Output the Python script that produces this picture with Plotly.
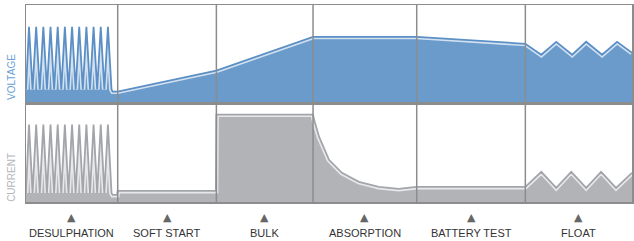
import plotly.graph_objects as go
from plotly.subplots import make_subplots

# ---- data ----
phases = ["DESULPHATION", "SOFT START", "BULK", "ABSORPTION", "BATTERY TEST", "FLOAT"]
phase_bounds = [0, 92, 191, 288, 392, 501, 608]

volt_t = [0, 3, 6.6, 10.2, 13.8, 17.4, 21, 24.6, 28.2, 31.8, 35.4, 39, 42.6, 46.2, 49.8,
          53.4, 57, 60.6, 64.2, 67.8, 71.4, 75, 78.6, 82.2, 85.8,
          87, 92, 191, 288, 392, 501, 517, 532, 548, 562, 578, 593, 608]
volt_v = [14, 77, 14, 77, 14, 77, 14, 77, 14, 77, 14, 77, 14, 77, 14,
          77, 14, 77, 14, 77, 14, 77, 14, 77, 14,
          12, 12, 33, 67, 67, 60, 49, 62, 49, 62, 49, 62, 51]

curr_t = [0, 3, 6.6, 10.2, 13.8, 17.4, 21, 24.6, 28.2, 31.8, 35.4, 39, 42.6, 46.2, 49.8,
          53.4, 57, 60.6, 64.2, 67.8, 71.4, 75, 78.6, 82.2, 85.8,
          87, 91.5, 92, 190.5, 191, 288, 289, 294, 304, 317, 334, 354, 374, 392,
          501, 517, 532, 547, 562, 577, 592, 608]
curr_v = [9, 77, 9, 77, 9, 77, 9, 77, 9, 77, 9, 77, 9, 77, 9,
          77, 9, 77, 9, 77, 9, 77, 9, 77, 9,
          7, 7, 11, 11, 87, 87, 82, 65, 42, 29, 20, 15, 13, 15,
          15, 30, 14, 30, 14, 30, 14, 29]

# ---- styles ----
BLUE_FILL = "#6a9bcb"
BLUE_LINE = "#5b8fc5"
GRAY_FILL = "#b1b3b7"
GRAY_LINE = "#a2a5aa"
BORDER = "#8c8c8c"

fig = make_subplots(rows=2, cols=1, shared_xaxes=True, vertical_spacing=0)

def add_series(t, v, fill, line, row):
    fig.add_trace(go.Scatter(x=t, y=v, mode="lines", fill="tozeroy", fillcolor=fill,
                             line=dict(width=0, color=fill), hoverinfo="skip",
                             showlegend=False), row=row, col=1)
    fig.add_trace(go.Scatter(x=t, y=v, mode="lines",
                             line=dict(width=5, color="rgba(255,255,255,0.7)"),
                             hoverinfo="skip", showlegend=False), row=row, col=1)
    fig.add_trace(go.Scatter(x=t, y=v, mode="lines",
                             line=dict(width=1.8, color=line),
                             hoverinfo="skip", showlegend=False), row=row, col=1)

add_series(volt_t, volt_v, BLUE_FILL, BLUE_LINE, 1)
add_series(curr_t, curr_v, GRAY_FILL, GRAY_LINE, 2)

axis_common = dict(showgrid=False, zeroline=False, showticklabels=False, ticks="",
                   showline=True, mirror=True, linecolor=BORDER, linewidth=1.5)
fig.update_xaxes(range=[phase_bounds[0], phase_bounds[-1]], **axis_common)
fig.update_yaxes(**axis_common)
fig.update_yaxes(range=[0, 99], row=1, col=1)
fig.update_yaxes(range=[0, 98], row=2, col=1)

shapes = []
for b in phase_bounds[1:-1]:
    shapes.append(dict(type="line", xref="x", yref="paper", x0=b, x1=b, y0=0, y1=1,
                       line=dict(color=BORDER, width=1.5), layer="above"))

annotations = []
for i, name in enumerate(phases):
    cx = (phase_bounds[i] + phase_bounds[i + 1]) / 2
    annotations.append(dict(x=cx, xref="x", y=0, yref="paper", yshift=-15, text="▲",
                            showarrow=False, font=dict(size=11, color="#666666",
                                                       family="DejaVu Sans"),
                            xanchor="center", yanchor="middle"))
    annotations.append(dict(x=cx, xref="x", y=0, yref="paper", yshift=-31, text=name,
                            showarrow=False,
                            font=dict(size=11, color="#333333",
                                      family="Liberation Sans, Arial, sans-serif"),
                            xanchor="center", yanchor="middle"))

annotations.append(dict(x=0, xref="paper", xshift=-14, y=0.27, yref="y domain",
                        text="VOLTAGE", textangle=-90, showarrow=False,
                        font=dict(size=10, color="#6b9fd5",
                                  family="Liberation Sans, Arial, sans-serif"),
                        xanchor="center", yanchor="middle"))
annotations.append(dict(x=0, xref="paper", xshift=-14, y=0.245, yref="y2 domain",
                        text="CURRENT", textangle=-90, showarrow=False,
                        font=dict(size=10, color="#b4b6ba",
                                  family="Liberation Sans, Arial, sans-serif"),
                        xanchor="center", yanchor="middle"))

fig.update_layout(width=634, height=241, margin=dict(l=26, r=0, t=5, b=39),
                  paper_bgcolor="white", plot_bgcolor="white",
                  shapes=shapes, annotations=annotations)

fig.write_html("out.html", config={"displayModeBar": False, "staticPlot": True},
               post_script="document.body.style.margin='0';document.body.style.padding='0';document.body.style.overflow='hidden';")
